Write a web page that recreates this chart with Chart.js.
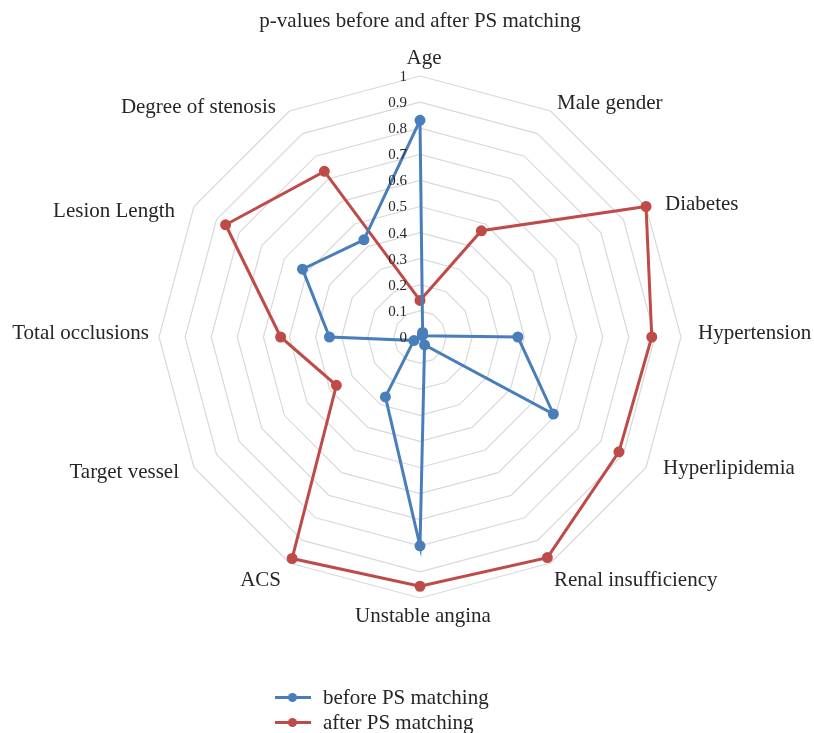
<!DOCTYPE html>
<html><head><meta charset="utf-8">
<script src="https://cdn.jsdelivr.net/npm/chart.js@4.4.1/dist/chart.umd.min.js"></script>
<style>
html,body{margin:0;padding:0;background:#fff;}
#wrap{position:relative;width:814px;height:733px;}
#legend{position:absolute;left:275px;top:684.5px;font-family:"Liberation Serif",serif;font-size:21px;color:#262626;}
.item{display:flex;align-items:center;height:25px;white-space:nowrap;}
.sw{position:relative;width:36px;height:3px;margin-right:12px;}
.sw i{position:absolute;left:13px;top:-3px;width:9px;height:9px;border-radius:50%;}
</style></head><body>
<div id="wrap"><canvas id="c" width="814" height="733"></canvas>
<div id="legend"></div></div>
<script>
const categories = ['Age','Male gender','Diabetes','Hypertension','Hyperlipidemia','Renal insufficiency','Unstable angina','ACS','Target vessel','Total occlusions','Lesion Length','Degree of stenosis'];
const beforeValues = [0.83, 0.02, 0.01, 0.375, 0.59, 0.035, 0.80, 0.265, 0.027, 0.347, 0.52, 0.43];
const afterValues  = [0.14, 0.47, 1.00, 0.888, 0.88, 0.976, 0.955, 0.98, 0.37, 0.534, 0.86, 0.733];
const tickLabels = ['0','0.1','0.2','0.3','0.4','0.5','0.6','0.7','0.8','0.9','1'];
const seriesNames = ['before PS matching','after PS matching'];
const seriesColors = ['#4A7EBB','#BE4B48'];
const titleText = 'p-values before and after PS matching';

const FONT = '"Liberation Serif", "Times New Roman", serif';
const TEXT = '#262626';
// per-label nudges (px) to mimic the original label placement
const labelNudge = [[4,1],[-1,6],[6,5],[2,-4],[4,-7],[-4,4],[3,-1],[-1,4],[-2,-3],[5,-4],[-6,12],[-6,10]];

const labelPlugin = {
  id: 'customLabels',
  afterDraw(chart) {
    const s = chart.scales.r;
    const ctx = chart.ctx;
    ctx.save();
    ctx.font = '21px ' + FONT;
    ctx.fillStyle = TEXT;
    categories.forEach((name, i) => {
      const p = s.getPointPosition(i, s.drawingArea + 15);
      const deg = ((i * 360 / categories.length) % 360);
      let align = 'center';
      if (deg > 2 && deg < 178) align = 'left';
      else if (deg > 182 && deg < 358) align = 'right';
      let y = p.y;
      if (deg <= 2 || deg >= 358) y -= 4;
      if (deg > 178 && deg < 182) y += 4;
      ctx.textAlign = align;
      ctx.textBaseline = 'middle';
      ctx.fillText(name, p.x + labelNudge[i][0], y + labelNudge[i][1]);
    });
    ctx.font = '15px ' + FONT;
    ctx.textAlign = 'right';
    ctx.textBaseline = 'middle';
    tickLabels.forEach(t => {
      const v = parseFloat(t);
      const d = s.getDistanceFromCenterForValue(v);
      ctx.fillText(t, s.xCenter - 13, s.yCenter - d + 1);
    });
    ctx.restore();
  }
};

new Chart(document.getElementById('c'), {
  type: 'radar',
  data: {
    labels: categories,
    datasets: [
      { label: seriesNames[0], data: beforeValues, borderColor: seriesColors[0], backgroundColor: seriesColors[0],
        pointBackgroundColor: seriesColors[0], pointBorderColor: seriesColors[0], borderWidth: 3, pointRadius: 4, fill: false },
      { label: seriesNames[1], data: afterValues, borderColor: seriesColors[1], backgroundColor: seriesColors[1],
        pointBackgroundColor: seriesColors[1], pointBorderColor: seriesColors[1], borderWidth: 3, pointRadius: 4, fill: false }
    ]
  },
  options: {
    responsive: false,
    animation: false,
    layout: { padding: { top: 0, bottom: 134, left: 26, right: 0 } },
    plugins: {
      legend: { display: false },
      tooltip: { enabled: false },
      title: { display: true, text: titleText, color: TEXT, font: { family: FONT, size: 21, weight: 'normal' },
               padding: { top: 9, bottom: 41 } }
    },
    scales: {
      r: {
        min: 0, max: 1,
        ticks: { stepSize: 0.1, display: false },
        grid: { color: '#d9d9d9', lineWidth: 1.2 },
        angleLines: { display: false },
        pointLabels: { display: false }
      }
    }
  },
  plugins: [labelPlugin]
});

const lg = document.getElementById('legend');
seriesNames.forEach((n, i) => {
  const d = document.createElement('div');
  d.className = 'item';
  d.innerHTML = '<span class="sw" style="background:' + seriesColors[i] + '"><i style="background:' + seriesColors[i] + '"></i></span><span>' + n + '</span>';
  lg.appendChild(d);
});
</script>
</body></html>
